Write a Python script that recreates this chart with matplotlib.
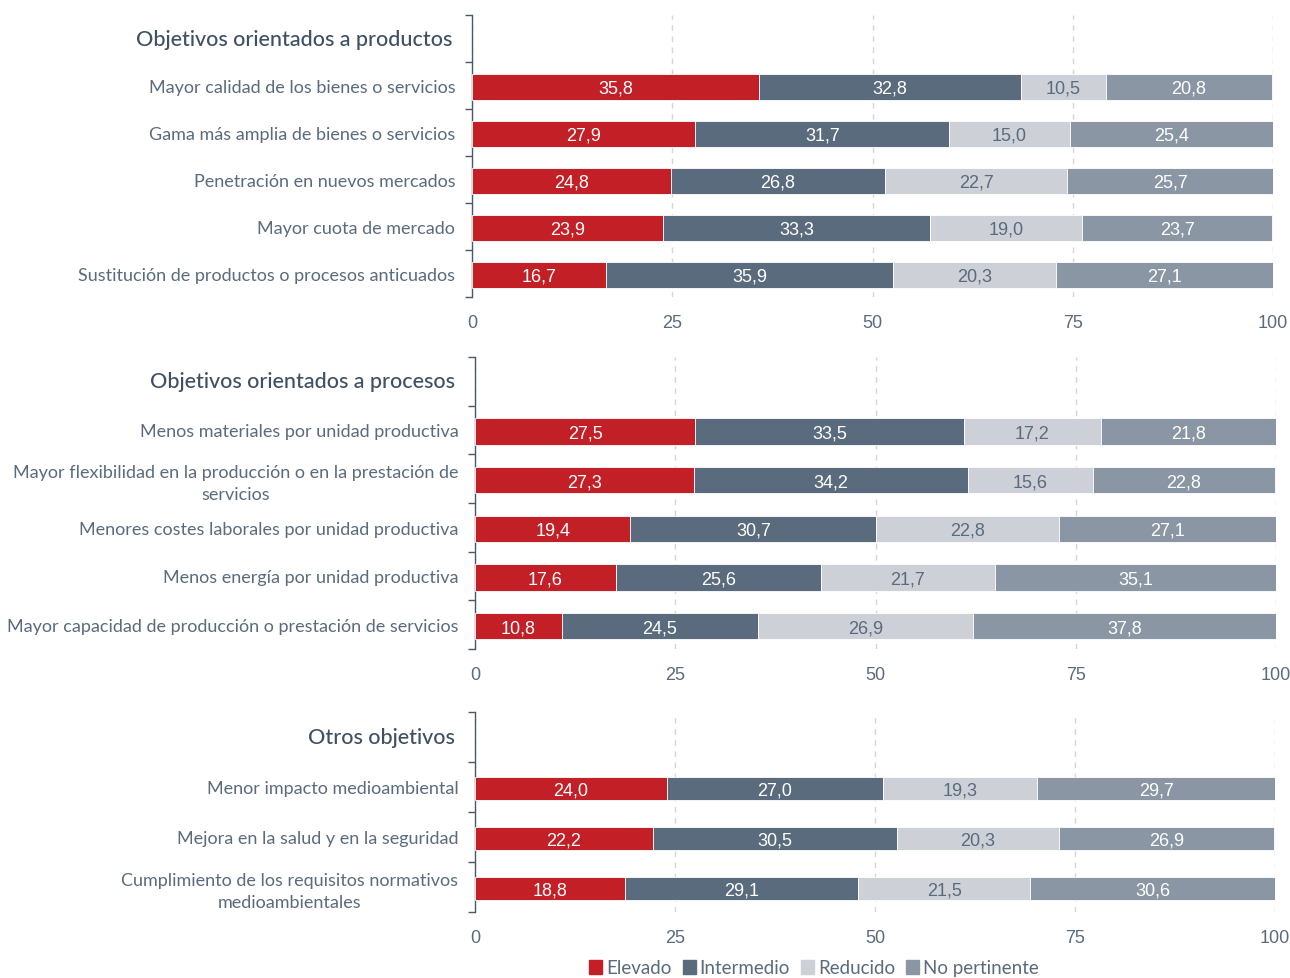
import matplotlib.pyplot as plt
from matplotlib import font_manager
from matplotlib.patches import Patch

names = {f.name for f in font_manager.fontManager.ttflist}
label_font = "Lato" if "Lato" in names else "DejaVu Sans"
num_font = "Liberation Sans Narrow" if "Liberation Sans Narrow" in names else "Liberation Sans"

niveles = ["Elevado", "Intermedio", "Reducido", "No pertinente"]
colores = ["#C21F27", "#5A6B7D", "#CDD0D7", "#8A96A3"]
txt_col = ["white", "white", "#5A6B7D", "white"]

titulo_1 = "Objetivos orientados a productos"
cat_1 = [
    "Mayor calidad de los bienes o servicios",
    "Gama más amplia de bienes o servicios",
    "Penetración en nuevos mercados",
    "Mayor cuota de mercado",
    "Sustitución de productos o procesos anticuados",
]
val_1 = [
    [35.8, 32.8, 10.5, 20.8],
    [27.9, 31.7, 15.0, 25.4],
    [24.8, 26.8, 22.7, 25.7],
    [23.9, 33.3, 19.0, 23.7],
    [16.7, 35.9, 20.3, 27.1],
]

titulo_2 = "Objetivos orientados a procesos"
cat_2 = [
    "Menos materiales por unidad productiva",
    "Mayor flexibilidad en la producción o en la prestación de\nservicios",
    "Menores costes laborales por unidad productiva",
    "Menos energía por unidad productiva",
    "Mayor capacidad de producción o prestación de servicios",
]
val_2 = [
    [27.5, 33.5, 17.2, 21.8],
    [27.3, 34.2, 15.6, 22.8],
    [19.4, 30.7, 22.8, 27.1],
    [17.6, 25.6, 21.7, 35.1],
    [10.8, 24.5, 26.9, 37.8],
]

titulo_3 = "Otros objetivos"
cat_3 = [
    "Menor impacto medioambiental",
    "Mejora en la salud y en la seguridad",
    "Cumplimiento de los requisitos normativos\nmedioambientales",
]
val_3 = [
    [24.0, 27.0, 19.3, 29.7],
    [22.2, 30.5, 20.3, 26.9],
    [18.8, 29.1, 21.5, 30.6],
]

W, H = 1290, 979
fig = plt.figure(figsize=(W / 100, H / 100), dpi=100)
slate = "#5A6B7D"


def panel(box, titulo, cats, vals, alto):
    x0, x1, y0, y1 = box
    ax = fig.add_axes([x0 / W, 1 - y1 / H, (x1 - x0) / W, (y1 - y0) / H])
    n = len(cats)
    pos = list(range(1, n + 1))
    for i, fila in enumerate(vals):
        izq = 0
        for j, v in enumerate(fila):
            ax.barh(pos[i] + 0.03, v, left=izq, height=alto, color=colores[j],
                    edgecolor="white", linewidth=0.6, zorder=3)
            ax.text(izq + v / 2, pos[i] + 0.06, f"{v:.1f}".replace(".", ","),
                    ha="center", va="center", color=txt_col[j], fontsize=13,
                    family=num_font, zorder=4)
            izq += v
    ax.set_xlim(0, 100)
    ax.set_ylim(n + 0.5, -0.5)
    ax.set_yticks(pos)
    ax.set_yticklabels(cats, family=label_font, fontsize=13, color=slate)
    for t in ax.get_yticklabels():
        t.set_multialignment("center")
        t.set_linespacing(1.45)
    ax.set_yticks([k - 0.5 for k in range(n + 2)], minor=True)
    ax.tick_params(axis="y", which="major", length=0, pad=12)
    ax.tick_params(axis="y", which="minor", length=5, color="#4A5868", width=1)
    ax.set_xticks([0, 25, 50, 75, 100])
    ax.tick_params(axis="x", length=0, pad=12, labelsize=13, labelcolor=slate)
    for t in ax.get_xticklabels():
        t.set_family(num_font)
    ax.grid(axis="x", linestyle=(0, (4, 4)), color="#D3D6DB", linewidth=1, zorder=0)
    for s in ["top", "right", "bottom"]:
        ax.spines[s].set_visible(False)
    ax.spines["left"].set_color("#4A5868")
    ax.spines["left"].set_linewidth(1)
    ax.text(-0.025, 0, titulo, transform=ax.get_yaxis_transform(), ha="right",
            va="center", fontsize=15.5, color="#3F5063", family=label_font,
            fontweight="medium")
    return ax


panel((472, 1273, 16, 298), titulo_1, cat_1, val_1, 0.56)
panel((475, 1276, 358, 650), titulo_2, cat_2, val_2, 0.54)
panel((475, 1275, 713, 913), titulo_3, cat_3, val_3, 0.45)

handles = [Patch(color=c) for c in colores]
fig.legend(handles, niveles, loc="center", bbox_to_anchor=(814 / W, 1 - 969 / H),
           ncol=4, frameon=False, handlelength=0.7, handleheight=0.7,
           handletextpad=0.2, columnspacing=0.6,
           prop={"family": label_font, "size": 13.5}, labelcolor=slate)

fig.savefig("out.png", dpi=100)
